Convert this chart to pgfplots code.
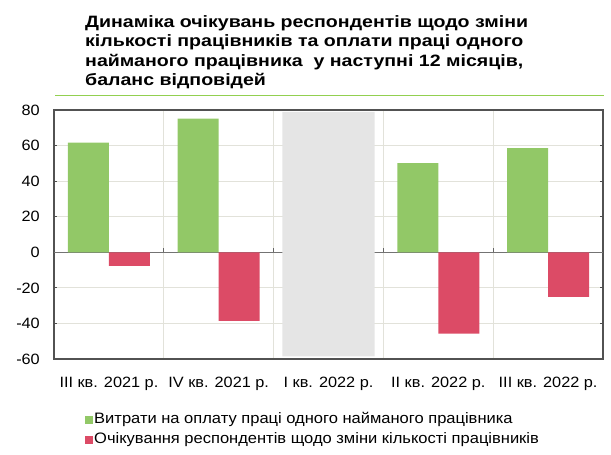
\documentclass[border=0pt]{standalone}
\usepackage{pgfplots}
\pgfplotsset{compat=1.18}
\usepackage{fontspec}
\setmainfont[FakeStretch=1.09]{Liberation Sans}
\newfontfamily\titlefont[FakeStretch=1.19]{Liberation Sans}
\definecolor{bgreen}{HTML}{92C867}
\definecolor{bred}{HTML}{DC4B66}
\definecolor{bgray}{HTML}{E5E5E5}
\definecolor{gridc}{HTML}{E2E2DA}
\definecolor{titleline}{HTML}{92D050}
\pgfplotsset{sqlegend/.style={legend image code/.code={\fill[##1,draw=none] (0bp,-4bp) rectangle (8bp,4bp);}}}
\begin{document}
\begin{tikzpicture}
\useasboundingbox (-54bp,-96bp) rectangle (557bp,359bp);
\begin{axis}[
  scale only axis, width=549bp, height=249bp,
  at={(0,0)}, anchor=south west,
  xmin=-0.5, xmax=4.5, ymin=-60, ymax=80,
  ytick={-60,-40,...,80},
  xtick={0,1,2,3,4},
  xticklabels={III кв. 2021 р.,IV кв. 2021 р.,I кв. 2022 р.,II кв. 2022 р.,III кв. 2022 р.},
  minor xtick={0.5,1.5,2.5,3.5},
  xminorgrids, ymajorgrids,
  major tick length=3bp, minor tick length=0pt, tick align=inside,
  xtick style={draw=none},
  ytick style={draw=black!70, line width=0.8pt},
  grid style={draw=gridc, line width=0.9pt},
  minor grid style={draw=gridc, line width=0.9pt},
  axis line style={draw=black!68, line width=1.3pt},
  /pgf/number format/assume math mode=true,
  ticklabel style={font=\fontsize{15}{17}\selectfont, text=black},
  yticklabel style={anchor=east, inner sep=0pt, xshift=-14bp},
  xticklabel style={anchor=base, inner sep=0pt, yshift=-28bp},
  extra y ticks={0}, extra y tick labels={},
  extra y tick style={grid style={draw=black!55, line width=0.9pt}, ytick style={draw=none}},
  legend style={at={(0.0565,-0.212)}, anchor=north west, draw=none, fill=none,
    inner sep=0pt, row sep=4bp,
    nodes={inner sep=1bp, text height=11bp, text depth=3bp, font=\fontsize{15.2}{17}\selectfont}},
  legend cell align=left,
  clip=false,
]
\addplot[fill=bgray, draw=none, forget plot] coordinates {(1.58,-58.5) (2.42,-58.5) (2.42,79) (1.58,79) (1.58,-58.5)};
\addplot[ybar, bar width=41bp, bar shift=-20.5bp, fill=bgreen, draw=none, sqlegend]
  coordinates {(0,61.7) (1,75.1) (3,50.1) (4,58.6)};
\addlegendentry{Витрати на оплату праці одного найманого працівника}
\addplot[ybar, bar width=41bp, bar shift=20.5bp, fill=bred, draw=none, sqlegend]
  coordinates {(0,-7.6) (1,-38.6) (3,-45.7) (4,-25.1)};
\addlegendentry{Очікування респондентів щодо зміни кількості працівників}
\draw[black!60, line width=0.7pt] (axis cs:0.5,0) -- (axis cs:0.5,2.5);
\draw[black!60, line width=0.7pt] (axis cs:1.5,0) -- (axis cs:1.5,2.5);
\draw[black!60, line width=0.7pt] (axis cs:2.5,0) -- (axis cs:2.5,2.5);
\draw[black!60, line width=0.7pt] (axis cs:3.5,0) -- (axis cs:3.5,2.5);
\end{axis}
\draw[titleline, line width=1.6pt] (1bp,263.5bp) -- (550bp,263.5bp);
\begin{scope}[every node/.style={anchor=base west, inner sep=0pt, font=\titlefont\bfseries\fontsize{16.5}{19}\selectfont}]
\node at (31bp,331bp) {Динаміка очікувань респондентів щодо зміни};
\node at (31bp,312bp) {кількості працівників та оплати праці одного};
\node at (31bp,292.5bp) {найманого працівника\ \ у наступні 12 місяців,};
\node at (31bp,273bp) {баланс відповідей};
\end{scope}
\end{tikzpicture}
\end{document}
